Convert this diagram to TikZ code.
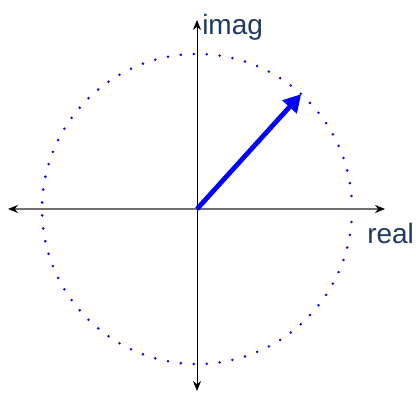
\documentclass[tikz,border=0pt]{standalone}
\usepackage{fontspec}
\setmainfont{Liberation Sans}
\usetikzlibrary{arrows.meta,positioning,calc}
\definecolor{label}{HTML}{1F3A60}
\definecolor{phasor}{HTML}{0000FF}
\definecolor{axisgray}{HTML}{707070}

\begin{document}
\begin{tikzpicture}[x=0.75pt,y=0.75pt,>=Stealth,every node/.style={font=\fontsize{21}{25}\selectfont,text=label,inner sep=0pt}]
\useasboundingbox (0,0) rectangle (416,392);
\coordinate (o) at (197,183);
\coordinate (xl) at (8,183);
\coordinate (xr) at (385,183);
\coordinate (yt) at (197,372);
\coordinate (yb) at (197,1);
\coordinate (tip) at ($(o)+(47.8:155)$);
% unit circle
\draw[phasor,line width=2.1pt,line cap=round,dash pattern=on 0pt off 9.74pt] (o) circle (155);
% axes
\draw[axisgray,line width=0.8pt,{Stealth[black,length=7.5pt,width=6pt]}-{Stealth[black,length=7.5pt,width=6pt]}] (xl)--(xr);
\draw[black,line width=0.7pt,{Stealth[length=7.5pt,width=6pt]}-{Stealth[length=7.5pt,width=6pt]}] (yb)--(yt);
% phasor
\draw[phasor,line width=3.6pt,-{Triangle[length=13pt,width=14pt]}] (o)--(tip);
\node[anchor=base west] (imag) at (202,357) {imag};
\node[anchor=base west] (real) at (367,148) {real};
\end{tikzpicture}
\end{document}
